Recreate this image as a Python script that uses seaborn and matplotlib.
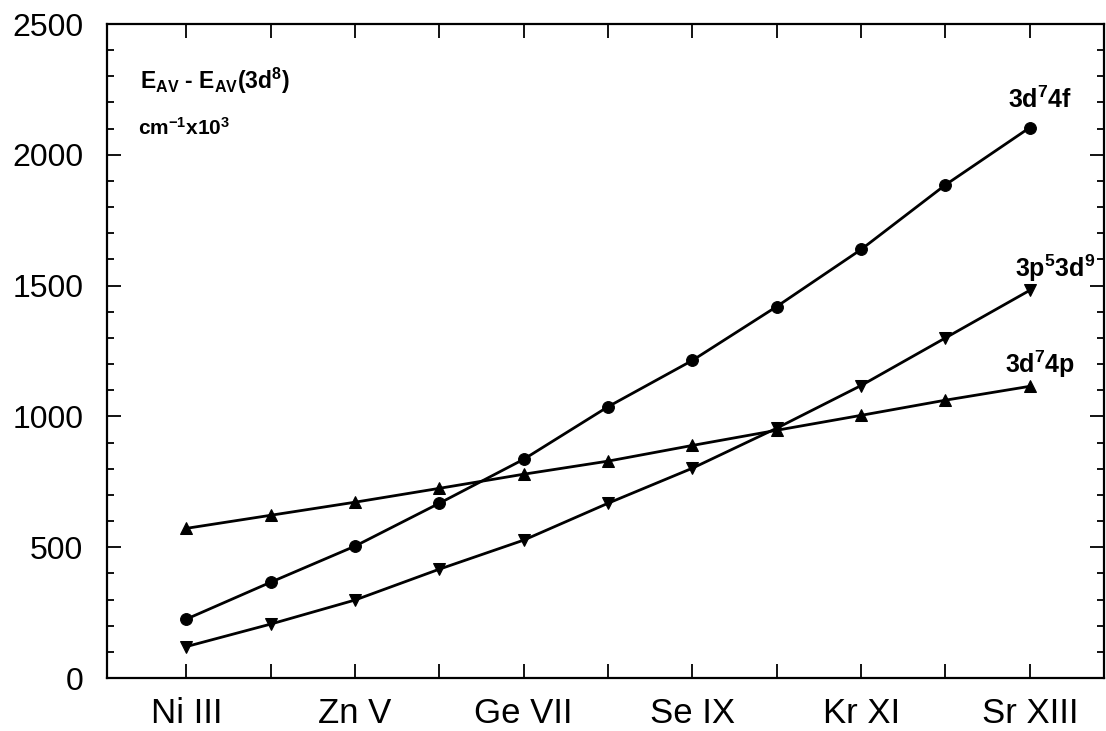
import matplotlib
matplotlib.use("Agg")
import matplotlib.pyplot as plt
import seaborn as sns
import pandas as pd
from matplotlib.ticker import MultipleLocator

ions = ["Ni III", "Cu IV", "Zn V", "Ga VI", "Ge VII", "As VIII",
        "Se IX", "Br X", "Kr XI", "Rb XII", "Sr XIII"]
tick_labels = ["Ni III", "", "Zn V", "", "Ge VII", "", "Se IX", "", "Kr XI", "", "Sr XIII"]
e_4f = [225, 366, 504, 668, 836, 1037, 1214, 1420, 1638, 1885, 2104]
e_3p53d9 = [120, 206, 298, 416, 527, 668, 802, 955, 1118, 1300, 1482]
e_4p = [572, 622, 672, 725, 779, 829, 889, 947, 1004, 1062, 1115]

sns.set_style("ticks")
plt.rcParams["font.family"] = ["Liberation Sans", "DejaVu Sans"]
plt.rcParams["mathtext.fontset"] = "custom"
plt.rcParams["mathtext.rm"] = "Liberation Sans"
plt.rcParams["mathtext.bf"] = "Liberation Sans:bold"
plt.rcParams["text.color"] = "black"
plt.rcParams["xtick.color"] = "black"
plt.rcParams["ytick.color"] = "black"
plt.rcParams["axes.edgecolor"] = "black"

rows = []
for name, vals in [("4f", e_4f), ("3p", e_3p53d9), ("4p", e_4p)]:
    for i, v in enumerate(vals):
        rows.append({"series": name, "x": i, "y": v})
df = pd.DataFrame(rows)

fig = plt.figure(figsize=(11.06, 7.31), dpi=100)
ax = fig.add_axes([107/1106, 1-678/731, (1104-107)/1106, (678-24)/731])

markers = {"4f": "o", "3p": "v", "4p": "^"}
for s in ["4f", "3p", "4p"]:
    sns.lineplot(data=df[df.series == s], x="x", y="y", ax=ax, color="black",
                 linewidth=2.0, marker=markers[s], markersize=8.5,
                 markeredgecolor="black", markerfacecolor="black")

ax.set_xlim(-0.94, 10.88)
ax.set_ylim(0, 2500)
ax.set_xticks(range(len(ions)))
ax.set_xticklabels(tick_labels, fontsize=25)
ax.yaxis.set_major_locator(MultipleLocator(500))
ax.yaxis.set_minor_locator(MultipleLocator(100))
ax.tick_params(axis="y", labelsize=23)
ax.tick_params(direction="in", top=True, right=True, which="both", width=1.3)
ax.tick_params(axis="y", which="major", length=10)
ax.tick_params(axis="y", which="minor", length=5)
ax.tick_params(axis="x", which="major", length=10)
for i, t in enumerate(ax.xaxis.get_major_ticks()):
    if i % 2 == 1:
        t.tick1line.set_markersize(5)
        t.tick2line.set_markersize(5)
ax.tick_params(axis="x", pad=14)
ax.tick_params(axis="y", pad=17)
ax.set_xlabel("")
ax.set_ylabel("")
for sp in ax.spines.values():
    sp.set_linewidth(1.6)
    sp.set_visible(True)

ax.text(0.033, 0.9, r"$\mathbf{E_{AV}}$ - $\mathbf{E_{AV}(3d^{8})}$", transform=ax.transAxes,
        fontsize=16.5, va="baseline", ha="left", fontweight="bold")
ax.text(0.031, 0.83, r"$\mathbf{cm^{-1}x10^{3}}$", transform=ax.transAxes,
        fontsize=15, va="baseline", ha="left")
ax.text(10.12, 2180, r"$\mathbf{3d^{7}4f}$", fontsize=18, ha="center", va="baseline")
ax.text(10.3, 1533, r"$\mathbf{3p^{5}3d^{9}}$", fontsize=18, ha="center", va="baseline")
ax.text(10.12, 1166, r"$\mathbf{3d^{7}4p}$", fontsize=18, ha="center", va="baseline")

fig.savefig("out.png", dpi=100)
